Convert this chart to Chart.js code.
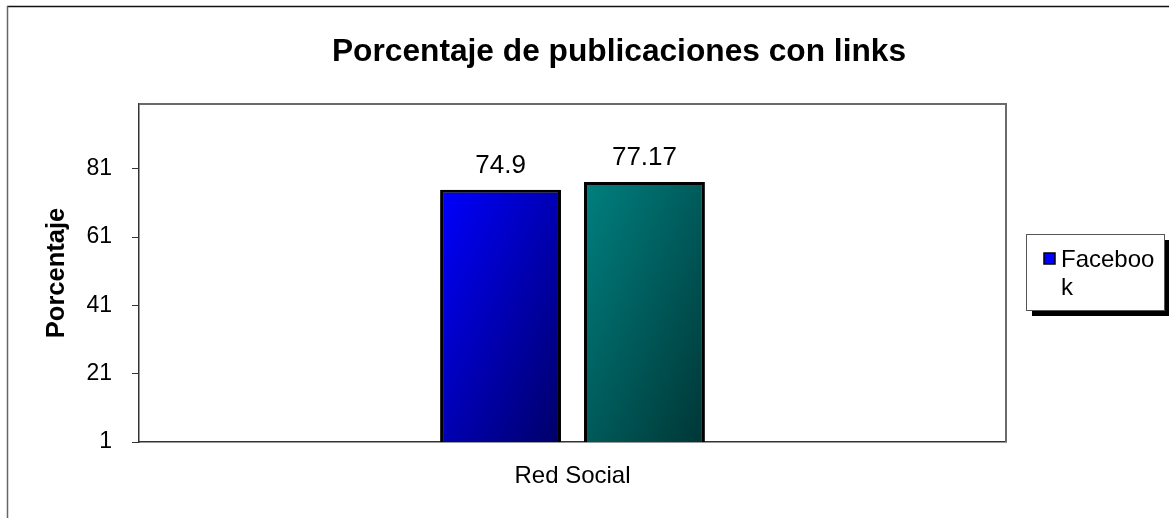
<!DOCTYPE html>
<html>
<head>
<meta charset="utf-8">
<script src="https://cdn.jsdelivr.net/npm/chart.js@4.4.1/dist/chart.umd.min.js"></script>
<style>
  html, body { margin: 0; padding: 0; background: #fff; overflow: hidden; }
</style>
</head>
<body>
<canvas id="chart" width="1169" height="518"></canvas>
<script>
// datos
const categories = ["Red Social"];
const seriesNames = ["Facebook", ""];
const facebookValues = [74.9];
const secondValues = [77.17];
const yTicks = [1, 21, 41, 61, 81];
const yMin = 1;
const yMax = 100;
const titleText = "Porcentaje de publicaciones con links";
const yTitle = "Porcentaje";

const FONT = "Arial, 'Liberation Sans', sans-serif";
const gradColors = [["#0000ff", "#000068"], ["#008080", "#003636"]];
const CAT_PCT = 0.332;
const BAR_PCT = 0.84;

// degradado diagonal por barra, calculado con las escalas del grafico
function barFill(context) {
    const chart = context.chart;
    const pair = gradColors[context.datasetIndex];
    if (!chart.chartArea || !chart.scales.x) return pair[0];
    const xs = chart.scales.x, ys = chart.scales.y;
    const nSets = chart.data.datasets.length;
    const catW = xs.width / chart.data.labels.length;
    const slot = catW * CAT_PCT / nSets;
    const left = xs.getPixelForValue(context.dataIndex) - catW * CAT_PCT / 2
        + context.datasetIndex * slot + slot * (1 - BAR_PCT) / 2;
    const top = ys.getPixelForValue(context.raw);
    const w = slot * BAR_PCT, h = ys.bottom - top;
    const f = 2 * w * h / (w * w + h * h);
    const g = chart.ctx.createLinearGradient(left, top, left + h * f, top + w * f);
    g.addColorStop(0, pair[0]);
    g.addColorStop(1, pair[1]);
    return g;
}

const decor = {
    id: "decor",
    beforeDraw(chart) {
        const ctx = chart.ctx;
        ctx.save();
        ctx.fillStyle = "#fff";
        ctx.fillRect(0, 0, chart.width, chart.height);
        // marco exterior (cortado a la derecha y abajo)
        ctx.lineWidth = 1.5;
        ctx.strokeStyle = "#111";
        ctx.beginPath();
        ctx.moveTo(7, 6.5);
        ctx.lineTo(chart.width, 6.5);
        ctx.stroke();
        ctx.strokeStyle = "#666";
        ctx.beginPath();
        ctx.moveTo(7.5, 6);
        ctx.lineTo(7.5, chart.height);
        ctx.stroke();
        ctx.restore();
    },
    afterDraw(chart) {
        const ctx = chart.ctx;
        const area = chart.chartArea;
        ctx.save();
        // borde superior y derecho del area de trazado
        ctx.strokeStyle = "#6a6a6a";
        ctx.lineWidth = 2;
        ctx.beginPath();
        ctx.moveTo(area.left, area.top);
        ctx.lineTo(area.right, area.top);
        ctx.lineTo(area.right, area.bottom);
        ctx.stroke();

        // titulo
        ctx.fillStyle = "#000";
        ctx.font = "bold 31.7px " + FONT;
        ctx.textAlign = "center";
        ctx.textBaseline = "alphabetic";
        ctx.fillText(titleText, 619, 61);

        // etiquetas de valor
        ctx.font = "26px " + FONT;
        chart.data.datasets.forEach((ds, i) => {
            chart.getDatasetMeta(i).data.forEach((bar, j) => {
                ctx.fillText(String(ds.data[j]), bar.x, bar.y - 17);
            });
        });

        // leyenda
        const lx = 1026, ly = 234, lw = 138, lh = 76;
        ctx.fillStyle = "#000";
        ctx.fillRect(lx + 6, ly + 6, lw, lh);
        ctx.fillStyle = "#fff";
        ctx.fillRect(lx, ly, lw, lh);
        ctx.strokeStyle = "#555";
        ctx.lineWidth = 1;
        ctx.strokeRect(lx + 0.5, ly + 0.5, lw, lh);
        chart.data.datasets.forEach((ds, i) => {
            if (!ds.label) return;
            const sy = 253 + i * 28;
            ctx.fillStyle = gradColors[i][0];
            ctx.fillRect(1044, sy, 11, 11);
            ctx.strokeStyle = "#000";
            ctx.lineWidth = 1.5;
            ctx.strokeRect(1044, sy, 11, 11);
            ctx.fillStyle = "#000";
            ctx.font = "24px " + FONT;
            ctx.textAlign = "left";
            ctx.textBaseline = "middle";
            // Excel parte la palabra en dos lineas
            const first = ds.label.slice(0, 7), rest = ds.label.slice(7);
            ctx.fillText(first, 1061, 260);
            if (rest) ctx.fillText(rest, 1061, 288);
        });
        ctx.restore();
    }
};

new Chart(document.getElementById("chart"), {
    type: "bar",
    data: {
        labels: categories,
        datasets: [
            { label: seriesNames[0], data: facebookValues },
            { label: seriesNames[1], data: secondValues }
        ].map(ds => Object.assign(ds, {
            backgroundColor: barFill,
            borderColor: "#000",
            borderWidth: 3,
            borderSkipped: false,
            categoryPercentage: CAT_PCT,
            barPercentage: BAR_PCT
        }))
    },
    options: {
        responsive: false,
        animation: false,
        layout: { padding: { left: 7, top: 104, right: 163, bottom: 0 } },
        plugins: {
            legend: { display: false },
            tooltip: { enabled: false }
        },
        scales: {
            x: {
                offset: true,
                grid: { drawOnChartArea: false, drawTicks: false },
                border: { color: "#333", width: 1.5 },
                ticks: { color: "#000", font: { family: FONT, size: 24 }, padding: 20 },
                afterFit(s) { s.height = 76; }
            },
            y: {
                min: yMin,
                max: yMax,
                afterBuildTicks(s) { s.ticks = yTicks.map(v => ({ value: v })); },
                grid: { drawOnChartArea: false, tickLength: 7, tickColor: "#333" },
                border: { color: "#333", width: 1.5 },
                ticks: { color: "#000", font: { family: FONT, size: 23 }, padding: 20 },
                title: {
                    display: true,
                    text: yTitle,
                    color: "#000",
                    font: { family: FONT, size: 25.5, weight: "bold" },
                    padding: { top: 35, bottom: 0 }
                },
                afterFit(s) { s.width = 132; }
            }
        }
    },
    plugins: [decor]
});
</script>
</body>
</html>
